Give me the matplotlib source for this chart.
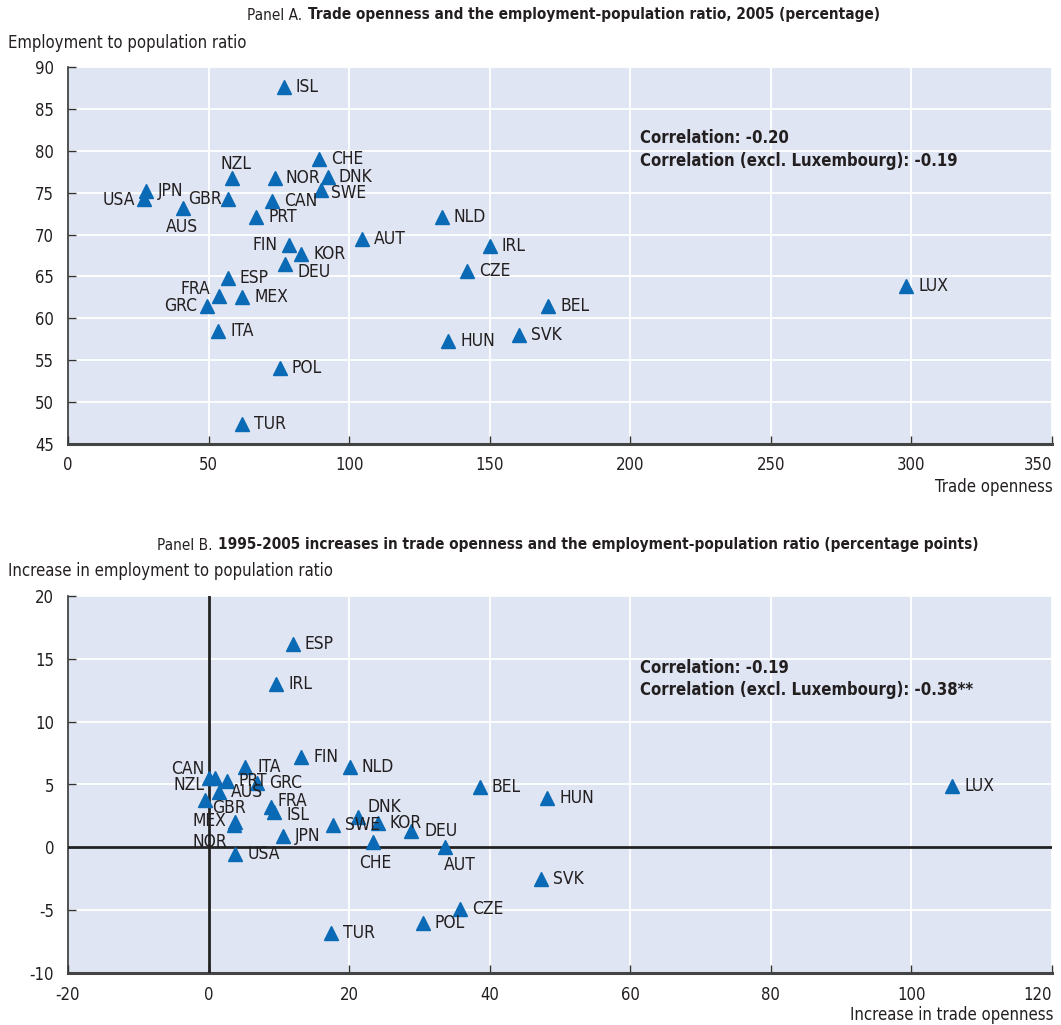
import matplotlib
matplotlib.use("Agg")
import matplotlib.pyplot as plt
from matplotlib import font_manager

# Panel A: trade openness vs employment-population ratio, 2005
codes_a = ["ISL", "CHE", "NZL", "NOR", "DNK", "SWE", "JPN", "USA", "GBR", "CAN",
           "AUS", "PRT", "NLD", "AUT", "FIN", "IRL", "KOR", "DEU", "CZE", "ESP",
           "LUX", "FRA", "MEX", "GRC", "BEL", "ITA", "SVK", "HUN", "POL", "TUR"]
trade_a = [76.8, 89.3, 58.3, 73.6, 92.5, 90.0, 27.7, 27.0, 56.9, 72.6,
           40.9, 66.9, 133.0, 104.6, 78.6, 150.1, 82.9, 77.2, 142.0, 56.9,
           298.1, 53.7, 61.9, 49.4, 170.8, 53.4, 160.4, 135.2, 75.4, 61.9]
emp_a = [87.6, 79.0, 76.75, 76.75, 76.9, 75.3, 75.2, 74.2, 74.2, 74.0,
         73.2, 72.1, 72.1, 69.5, 68.8, 68.6, 67.7, 66.5, 65.7, 64.8,
         63.9, 62.7, 62.5, 61.5, 61.5, 58.5, 58.0, 57.3, 54.1, 47.4]

# Panel B: 1995-2005 changes
codes_b = ["ESP", "IRL", "FIN", "NLD", "ITA", "CAN", "NZL", "PRT", "GRC", "AUS",
           "GBR", "FRA", "ISL", "MEX", "NOR", "USA", "JPN", "SWE", "DNK", "KOR",
           "CHE", "DEU", "AUT", "BEL", "HUN", "LUX", "SVK", "CZE", "POL", "TUR"]
trade_b = [12.0, 9.6, 13.2, 20.1, 5.2, 0.0, 0.9, 2.6, 6.9, 1.5,
           -0.5, 8.9, 9.3, 3.7, 3.6, 3.8, 10.6, 17.7, 21.3, 24.1,
           23.4, 28.8, 33.6, 38.6, 48.2, 105.8, 47.3, 35.8, 30.5, 17.4]
emp_b = [16.15, 13.0, 7.2, 6.4, 6.4, 5.5, 5.5, 5.3, 5.1, 4.4,
         3.8, 3.2, 2.8, 2.0, 1.8, -0.5, 0.9, 1.75, 2.4, 1.9,
         0.4, 1.3, 0.0, 4.8, 3.9, 4.9, -2.5, -4.9, -6.0, -6.8]

corr_a = ["Correlation: -0.20", "Correlation (excl. Luxembourg): -0.19"]
corr_b = ["Correlation: -0.19", "Correlation (excl. Luxembourg): -0.38**"]

# label placement: (dx px, dy px, ha); default is to the right of the marker
place_a = {
    "USA": (-9, -1, "right"), "NZL": (4, 14, "center"), "GBR": (-6, 0, "right"),
    "AUS": (-1, -19, "center"), "FIN": (-11, 0, "right"), "FRA": (-9, 7, "right"),
    "GRC": (-10, 0, "right"), "DEU": (12, -8, "left"), "SWE": (10, -3, "left"),
    "NOR": (11, 0, "left"), "DNK": (10, 0, "left"),
}
place_b = {
    "CAN": (-4, 9, "right"), "NZL": (-10, -7, "right"), "GBR": (7, -8, "left"),
    "FRA": (6, 6, "left"), "ISL": (13, -3, "left"), "MEX": (-8, 1, "right"),
    "NOR": (-7, -17, "right"), "DNK": (9, 10, "left"), "CHE": (2, -21, "center"),
    "AUT": (15, -18, "center"), "DEU": (14, 0, "left"),
}

names = {f.name for f in font_manager.fontManager.ttflist}
family = "Liberation Sans Narrow" if "Liberation Sans Narrow" in names else "DejaVu Sans"
plt.rcParams["font.family"] = [family, "DejaVu Sans"]
if family == "DejaVu Sans":
    plt.rcParams["font.stretch"] = "condensed"
plt.rcParams["axes.unicode_minus"] = False

BG = "#dfe5f3"
BLUE = "#0a6ab5"
INK = "#231f20"

W, H = 1061, 1025
fig = plt.figure(figsize=(W / 100, H / 100), dpi=100)


def px(x, y):
    return x / W, 1 - y / H


def panel(rect, codes, xs, ys, place, xlim, xticks, ylim, yticks):
    ax = fig.add_axes(rect)
    ax.set_facecolor(BG)
    ax.set_xlim(*xlim)
    ax.set_ylim(*ylim)
    ax.set_xticks(xticks)
    ax.set_yticks(yticks)
    ax.grid(True, color="white", lw=1.3)
    ax.set_axisbelow(True)
    for s in ("top", "right"):
        ax.spines[s].set_visible(False)
    ax.spines["left"].set_color("#333333")
    ax.spines["left"].set_linewidth(1.2)
    ax.spines["bottom"].set_color("#444444")
    ax.spines["bottom"].set_linewidth(2.2)
    ax.tick_params(direction="in", length=6, width=1, color="#333333",
                   labelsize=12, labelcolor=INK)
    ax.tick_params(axis="x", pad=9)
    ax.tick_params(axis="y", pad=10)
    # last x tick label sits flush with the right edge
    ax.get_xticklabels()[-1].set_horizontalalignment("right")
    ax.plot(xs, ys, ls="none", marker="^", ms=9.5, color=BLUE, zorder=4)
    for c, x, y in zip(codes, xs, ys):
        dx, dy, ha = place.get(c, (12, 0, "left"))
        ax.annotate(c, (x, y), xytext=(dx, dy), textcoords="offset pixels",
                    ha=ha, va="center", fontsize=12.5, color=INK, zorder=5)
    return ax


ax_a = panel([68 / W, 1 - 444 / H, 984 / W, 377 / H], codes_a, trade_a, emp_a, place_a,
             (0, 350), range(0, 351, 50), (45, 90), range(45, 91, 5))
ax_b = panel([68 / W, 1 - 973 / H, 984 / W, 377 / H], codes_b, trade_b, emp_b, place_b,
             (-20, 120), range(-20, 121, 20), (-10, 20), range(-10, 21, 5))
ax_b.axhline(0, color="#222222", lw=2, zorder=3)
ax_b.axvline(0, color="#222222", lw=2, zorder=3)


def title(x, y, lead, rest):
    t = fig.text(*px(x, y), lead, fontsize=11, color=INK, ha="left", va="center")
    fig.canvas.draw()
    bb = t.get_window_extent()
    fig.text(bb.x1 / W + 6 / W, px(x, y)[1], rest, fontsize=11, fontweight="bold",
             color=INK, ha="left", va="center")


title(247, 15, "Panel A.", "Trade openness and the employment-population ratio, 2005 (percentage)")
title(157, 545, "Panel B.", "1995-2005 increases in trade openness and the employment-population ratio (percentage points)")

fig.text(*px(8, 43), "Employment to population ratio", fontsize=12, color=INK, va="center")
fig.text(*px(8, 571), "Increase in employment to population ratio", fontsize=12, color=INK, va="center")
fig.text(*px(1053, 487), "Trade openness", fontsize=12, color=INK, ha="right", va="center")
fig.text(*px(1053, 1015), "Increase in trade openness", fontsize=12, color=INK, ha="right", va="center")

for i, line in enumerate(corr_a):
    fig.text(*px(640, 138 + 23 * i), line, fontsize=12, fontweight="bold", color=INK, va="center")
for i, line in enumerate(corr_b):
    fig.text(*px(640, 668 + 22 * i), line, fontsize=12, fontweight="bold", color=INK, va="center")

fig.savefig("out.png", dpi=100, facecolor="white")
